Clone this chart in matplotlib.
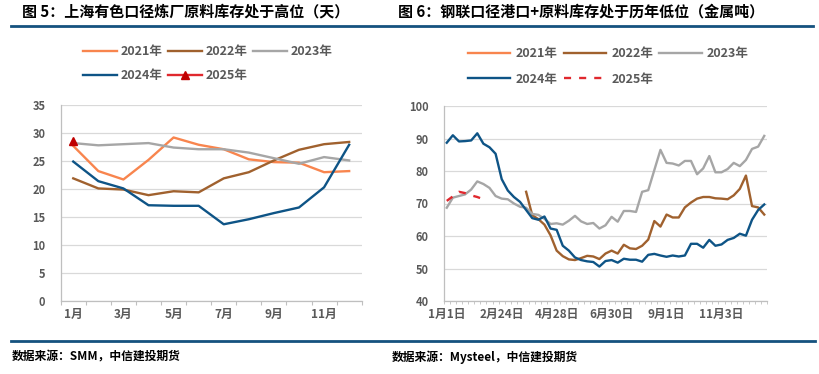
import numpy as np
import matplotlib
matplotlib.use('Agg')
import matplotlib.pyplot as plt
from matplotlib.lines import Line2D

plt.rcParams['font.family'] = ['Noto Sans CJK SC', 'DejaVu Sans']

# left panel: smelter raw material inventory (days), monthly
months = ['1月', '2月', '3月', '4月', '5月', '6月', '7月', '8月', '9月', '10月', '11月', '12月']
days_2021 = [27.7, 23.2, 21.7, 25.2, 29.2, 27.9, 27.1, 25.3, 24.8, 24.7, 23.0, 23.2]
days_2022 = [21.9, 20.1, 19.9, 18.9, 19.6, 19.4, 21.9, 23.0, 25.1, 27.0, 28.0, 28.4]
days_2023 = [28.2, 27.8, 28.0, 28.2, 27.4, 27.1, 27.1, 26.5, 25.5, 24.5, 25.7, 25.1]
days_2024 = [24.9, 21.4, 20.1, 17.1, 17.0, 17.0, 13.7, 14.6, 15.7, 16.7, 20.3, 27.9]
days_2025 = [28.6]

# right panel: port + raw material inventory (kt metal), weekly
week_labels = ['1月1日', '2月24日', '4月28日', '6月30日', '9月1日', '11月3日']
week_label_pos = [0, 9, 18, 27, 36, 45]
n_weeks = 53
stock_2022 = [np.nan] * 13 + [
    73.6, 66.4, 65.2, 63.5, 60.2, 55.5, 53.8, 52.8, 52.6, 53.2,
    53.9, 53.7, 52.9, 54.6, 55.5, 54.6, 57.3, 56.2, 56.0, 57.0,
    58.9, 64.6, 62.9, 66.6, 65.7, 65.7, 68.8, 70.3, 71.5, 72.0,
    72.0, 71.6, 71.5, 71.3, 72.5, 74.5, 78.6, 69.2, 68.8, 66.6]
stock_2023 = [
    68.7, 71.8, 72.3, 72.8, 74.3, 76.8, 76.0, 74.8, 72.3, 71.5,
    71.3, 70.0, 69.0, 68.7, 66.8, 66.5, 65.3, 63.7, 63.9, 63.5,
    64.7, 66.2, 64.5, 63.7, 64.0, 62.3, 63.3, 65.9, 64.4, 67.7,
    67.7, 67.4, 73.6, 74.1, 80.3, 86.5, 82.5, 82.3, 81.7, 83.1,
    83.1, 79.0, 80.8, 84.6, 79.6, 79.6, 80.6, 82.5, 81.5, 83.4,
    86.8, 87.5, 90.8]
stock_2024 = [
    88.7, 91.0, 89.1, 89.2, 89.4, 91.6, 88.4, 87.3, 85.3, 77.5,
    74.0, 72.0, 70.5, 68.0, 65.5, 65.0, 66.0, 62.3, 61.9, 57.0,
    55.5, 53.4, 52.6, 52.2, 52.0, 50.6, 52.3, 52.6, 51.8, 53.0,
    52.7, 52.7, 52.1, 54.2, 54.5, 54.0, 53.6, 54.0, 53.7, 54.0,
    57.6, 57.6, 56.4, 58.8, 57.0, 57.4, 58.8, 59.4, 60.7, 60.1,
    65.0, 68.0, 69.7]
stock_2025 = [70.8, 72.2, 73.6, 73.2, 72.5, 72.0, 71.3]

c21 = '#F8854E'
c22 = '#A0612E'
c23 = '#A6A6A6'
c24 = '#0E5486'
c25 = '#E0282E'
txt = '#595959'
grid = '#D9D9D9'
axis_c = '#BFBFBF'
navy = '#15527F'
lw = 1.7

fig = plt.figure(figsize=(8.2, 3.74), dpi=100)
W, H = 820, 374


def fx(px):
    return px / W


def fy(py):
    return 1 - py / H


def style_axes(ax):
    for s in ['top', 'right']:
        ax.spines[s].set_visible(False)
    for s in ['left', 'bottom']:
        ax.spines[s].set_color(axis_c)
        ax.spines[s].set_linewidth(0.9)
    ax.grid(axis='y', color=grid, lw=0.9)
    ax.set_axisbelow(True)
    ax.tick_params(axis='y', length=0, pad=11, labelsize=8, labelcolor=txt)
    ax.tick_params(axis='x', which='major', length=3, color=axis_c, labelbottom=False)
    ax.tick_params(axis='x', which='minor', length=0, pad=5, labelsize=8.5, labelcolor=txt)
    for lab in ax.get_yticklabels():
        lab.set_fontweight('bold')


def add_legend(handles, x, y, hlen, tpad, cspace, lspace):
    fig.legend(handles, [h.get_label() for h in handles], ncol=3, loc='upper left',
               bbox_to_anchor=(fx(x), fy(y)), frameon=False,
               prop=dict(weight='bold', size=9), labelcolor=txt,
               handlelength=hlen, handletextpad=tpad, columnspacing=cspace,
               labelspacing=lspace, borderpad=0, borderaxespad=0)


# ---- left chart ----
ax1 = fig.add_axes([fx(60.7), fy(301), fx(301), (301 - 105) / H])
x1 = np.arange(len(months))
l21, = ax1.plot(x1, days_2021, color=c21, lw=lw, label='2021年')
l22, = ax1.plot(x1, days_2022, color=c22, lw=lw, label='2022年')
l23, = ax1.plot(x1, days_2023, color=c23, lw=lw, label='2023年')
l24, = ax1.plot(x1, days_2024, color=c24, lw=lw, label='2024年')
l25, = ax1.plot(x1[:len(days_2025)], days_2025, color=c25, lw=lw, marker='^',
                ms=6, mfc='#C00000', mec='#C00000', label='2025年')
ax1.set_xlim(-0.5, len(months) - 0.5)
ax1.set_ylim(0, 35)
ax1.set_yticks(np.arange(0, 36, 5))
ax1.set_xticks(np.arange(-0.5, len(months), 1))
ax1.set_xticks(x1[::2], minor=True)
ax1.set_xticklabels(months[::2], minor=True, fontweight='bold')
style_axes(ax1)
add_legend([l21, l24, l22, l25, l23], 83, 45, 2.7, 0.3, 0.45, 0.9)

# ---- right chart ----
ax2 = fig.add_axes([fx(443.7), fy(301), fx(323.6), (301 - 106) / H])
x2 = np.arange(n_weeks)
r21, = ax2.plot([], [], color=c21, lw=lw, label='2021年')
r22, = ax2.plot(x2, stock_2022, color=c22, lw=lw, label='2022年')
r23, = ax2.plot(x2, stock_2023, color=c23, lw=lw, label='2023年')
r24, = ax2.plot(x2, stock_2024, color=c24, lw=lw, label='2024年')
r25, = ax2.plot(x2[:len(stock_2025)], stock_2025, color=c25, lw=lw,
                dashes=(3, 3.4), label='2025年')
ax2.set_xlim(-0.5, n_weeks - 0.5)
ax2.set_ylim(40, 100)
ax2.set_yticks(np.arange(40, 101, 10))
ax2.set_xticks(np.arange(-0.5, n_weeks, 1))
ax2.set_xticks(week_label_pos, minor=True)
ax2.set_xticklabels(week_labels, minor=True, fontweight='bold')
style_axes(ax2)
ax2.tick_params(axis='x', which='major', length=2.5, width=0.6)
add_legend([r21, r24, r22, r25, r23], 468, 47, 3.4, 0.4, 0.5, 1.0)

# ---- titles, rules, sources ----
fig.text(fx(22), fy(11), '图 5：上海有色口径炼厂原料库存处于高位（天）',
         fontsize=10.8, fontweight='bold', va='center', ha='left')
fig.text(fx(398), fy(11), '图 6：钢联口径港口+原料库存处于历年低位（金属吨）',
         fontsize=10.8, fontweight='bold', va='center', ha='left')
fig.add_artist(Line2D([fx(11), fx(813)], [fy(26), fy(26)], color=navy, lw=2))
fig.add_artist(Line2D([fx(11), fx(815)], [fy(341), fy(341)], color=navy, lw=2))
fig.text(fx(12), fy(357), '数据来源：SMM，中信建投期货', fontsize=8.5,
         fontweight='bold', style='italic', va='center', ha='left')
fig.text(fx(392), fy(357), '数据来源：Mysteel，中信建投期货', fontsize=8.5,
         fontweight='bold', style='italic', va='center', ha='left')

fig.savefig('out.png', dpi=100)
plt.close(fig)
